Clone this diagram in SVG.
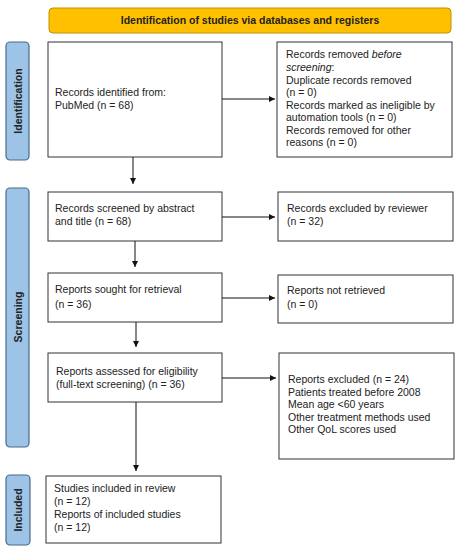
<svg xmlns="http://www.w3.org/2000/svg" width="464" height="550" viewBox="0 0 464 550">
<defs>
<style>
.box{fill:#fff;stroke:#333;stroke-width:1}
.bar{fill:#9DC3E6;stroke:#4a6a8a;stroke-width:1.2}
.t{font-family:"Liberation Sans",Arial,sans-serif;font-size:10.5px;fill:#222}
.b{font-family:"Liberation Sans",Arial,sans-serif;font-size:10.5px;font-weight:bold;fill:#222}
.c{stroke:#111;stroke-width:1;fill:none;marker-end:url(#ah)}
</style>
<marker id="ah" viewBox="0 0 10 10" refX="10" refY="5" markerWidth="7" markerHeight="6" markerUnits="userSpaceOnUse" orient="auto">
<path d="M0,0 L10,5 L0,10 z" fill="#111"/>
</marker>
</defs>
<rect width="464" height="550" fill="#fff"/>
<g id="header">
<rect x="49" y="8" width="402" height="25" rx="4" fill="#FFC000" stroke="#C09000" stroke-width="1"/>
<text class="b" x="250" y="24" text-anchor="middle">Identification of studies via databases and registers</text>
</g>
<g id="bar-identification">
<rect class="bar" x="6" y="42" width="23" height="118" rx="4"/>
<text class="b" transform="translate(21.5,101) rotate(-90)" text-anchor="middle">Identification</text>
</g>
<g id="bar-screening">
<rect class="bar" x="6" y="188" width="23" height="259" rx="4"/>
<text class="b" transform="translate(21.5,317) rotate(-90)" text-anchor="middle">Screening</text>
</g>
<g id="bar-included">
<rect class="bar" x="6" y="475" width="24" height="70" rx="4"/>
<text class="b" transform="translate(22,510) rotate(-90)" text-anchor="middle">Included</text>
</g>
<g id="identified">
<rect class="box" x="48" y="42" width="174" height="115"/>
<text class="t" x="55" y="96">Records identified from:</text>
<text class="t" x="55" y="109">PubMed (n = 68)</text>
</g>
<g id="removed">
<rect class="box" x="277" y="42" width="175" height="115"/>
<text class="t" x="286" y="58">Records removed <tspan font-style="italic">before</tspan></text>
<text class="t" x="286" y="71"><tspan font-style="italic">screening</tspan>:</text>
<text class="t" x="286" y="83.5">Duplicate records removed</text>
<text class="t" x="286" y="96">(n = 0)</text>
<text class="t" x="286" y="108.5">Records marked as ineligible by</text>
<text class="t" x="286" y="121">automation tools (n = 0)</text>
<text class="t" x="286" y="133.5">Records removed for other</text>
<text class="t" x="286" y="146">reasons (n = 0)</text>
</g>
<g id="screened">
<rect class="box" x="48" y="192" width="174" height="49"/>
<text class="t" x="55" y="212">Records screened by abstract</text>
<text class="t" x="55" y="225">and title (n = 68)</text>
</g>
<g id="excluded-reviewer">
<rect class="box" x="278" y="192" width="175" height="49"/>
<text class="t" x="287" y="212">Records excluded by reviewer</text>
<text class="t" x="287" y="225">(n = 32)</text>
</g>
<g id="sought">
<rect class="box" x="48" y="273" width="174" height="49"/>
<text class="t" x="55" y="293">Reports sought for retrieval</text>
<text class="t" x="55" y="308">(n = 36)</text>
</g>
<g id="not-retrieved">
<rect class="box" x="278" y="275" width="175" height="48"/>
<text class="t" x="287" y="294">Reports not retrieved</text>
<text class="t" x="287" y="308">(n = 0)</text>
</g>
<g id="assessed">
<rect class="box" x="48" y="353" width="174" height="49"/>
<text class="t" x="56" y="375">Reports assessed for eligibility</text>
<text class="t" x="56" y="388">(full-text screening) (n = 36)</text>
</g>
<g id="excluded-reports">
<rect class="box" x="279" y="353" width="175" height="106"/>
<text class="t" x="288" y="383">Reports excluded (n = 24)</text>
<text class="t" x="288" y="395.5">Patients treated before 2008</text>
<text class="t" x="288" y="408">Mean age &lt;60 years</text>
<text class="t" x="288" y="420.5">Other treatment methods used</text>
<text class="t" x="288" y="433">Other QoL scores used</text>
</g>
<g id="included">
<rect class="box" x="46" y="476" width="175" height="67"/>
<text class="t" x="54" y="492">Studies included in review</text>
<text class="t" x="54" y="505">(n = 12)</text>
<text class="t" x="54" y="518">Reports of included studies</text>
<text class="t" x="54" y="531">(n = 12)</text>
</g>
<g id="connectors">
<line class="c" x1="222" y1="99" x2="275" y2="99"/>
<line class="c" x1="133" y1="157" x2="133" y2="184"/>
<line class="c" x1="222" y1="217" x2="275" y2="217"/>
<line class="c" x1="135" y1="241" x2="135" y2="267"/>
<line class="c" x1="222" y1="298" x2="275" y2="298"/>
<line class="c" x1="136" y1="322" x2="136" y2="347"/>
<line class="c" x1="222" y1="378" x2="276" y2="378"/>
<line class="c" x1="136" y1="402" x2="136" y2="471"/>
</g>
</svg>
